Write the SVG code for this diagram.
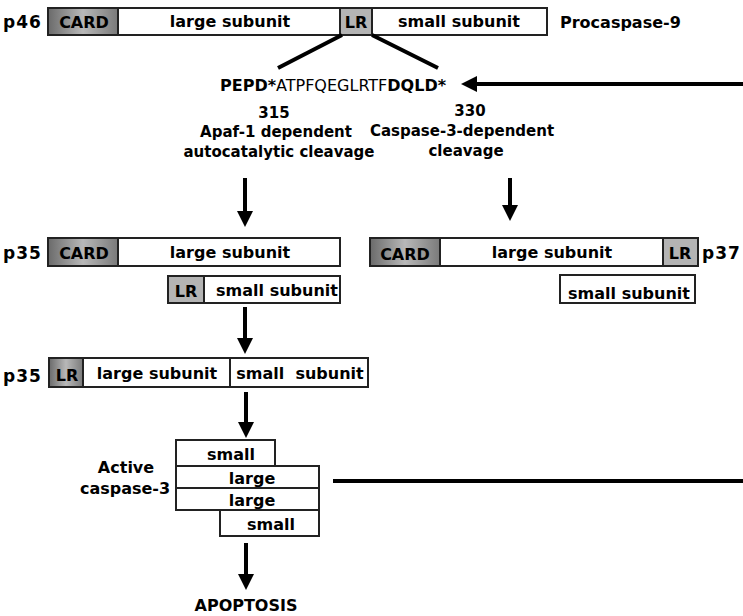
<svg xmlns="http://www.w3.org/2000/svg" width="743" height="616" viewBox="0 0 743 616">
<defs>
<linearGradient id="cardG" x1="0" y1="0" x2="1" y2="0">
<stop offset="0" stop-color="#6a6a6a"/>
<stop offset="0.5" stop-color="#b8b8b8"/>
<stop offset="1" stop-color="#7a7a7a"/>
</linearGradient>
<marker id="ah" viewBox="0 0 16 16" markerWidth="16" markerHeight="16" markerUnits="userSpaceOnUse" refX="1" refY="8" orient="auto">
<path d="M0,0 L16,8 L0,16 z" fill="#000"/>
</marker>
</defs>
<style>
text{font-family:"DejaVu Sans","Verdana",sans-serif;font-weight:bold;fill:#000;}
.t{font-size:16px;}
.l{font-size:15px;}
.p{font-size:17px;letter-spacing:1px;}
.m{font-size:16px;}
.c{text-anchor:middle;}
.box{fill:#fff;stroke:#222;stroke-width:2;}
.card{fill:url(#cardG);stroke:#222;stroke-width:2;}
.lr{fill:#b4b4b4;stroke:#222;stroke-width:2;}
.conn{stroke:#000;stroke-width:4;fill:none;}
.arr{stroke:#000;stroke-width:4;fill:none;marker-end:url(#ah);}
.pre{white-space:pre;}
</style>

<g id="procaspase9">
<text class="p" x="3" y="28">p46</text>
<rect class="card" x="48" y="8" width="70" height="27"/>
<text class="t c" x="84" y="28">CARD</text>
<rect class="box" x="118" y="8" width="222" height="27"/>
<text class="t c" x="230" y="27">large subunit</text>
<rect class="lr" x="340" y="8" width="32" height="27"/>
<text class="t c" x="356" y="28">LR</text>
<rect class="box" x="372" y="8" width="175" height="27"/>
<text class="t c" x="459" y="27">small subunit</text>
<text class="t" x="560" y="28">Procaspase-9</text>
</g>

<g id="sequence">
<text style="font-size:16px" x="220" y="91">PEPD*<tspan style="font-weight:normal">ATPFQEGLRTF</tspan>DQLD*</text>
</g>

<g id="label315">
<text class="l c" x="274" y="118">315</text>
<text class="l c" x="276" y="137">Apaf-1 dependent</text>
<text class="l c" x="279" y="157">autocatalytic cleavage</text>
</g>

<g id="label330">
<text class="l c" x="470" y="116">330</text>
<text class="l c" x="462" y="136">Caspase-3-dependent</text>
<text class="l c" x="466" y="156">cleavage</text>
</g>

<g id="p35a">
<text class="p" x="3" y="259">p35</text>
<rect class="card" x="48" y="238" width="70" height="28"/>
<text class="t c" x="84" y="259">CARD</text>
<rect class="box" x="118" y="238" width="222" height="28"/>
<text class="t c" x="230" y="258">large subunit</text>
</g>

<g id="lrsmall">
<rect class="lr" x="168" y="276" width="36" height="27"/>
<text class="t c" x="186" y="297">LR</text>
<rect class="box" x="204" y="276" width="136" height="27"/>
<text class="t c" x="277" y="296">small subunit</text>
</g>

<g id="p37">
<rect class="card" x="370" y="238" width="70" height="28"/>
<text class="t c" x="405" y="260">CARD</text>
<rect class="box" x="440" y="238" width="223" height="28"/>
<text class="t c" x="552" y="258">large subunit</text>
<rect class="lr" x="663" y="238" width="35" height="28"/>
<text class="t c" x="680" y="259">LR</text>
<text class="p" x="702" y="259">p37</text>
</g>

<g id="smallright">
<rect class="box" x="560" y="275" width="135" height="28"/>
<text class="t c" x="629" y="299">small subunit</text>
</g>

<g id="p35b">
<text class="p" x="3" y="382">p35</text>
<rect class="card" x="49" y="358" width="34" height="29"/>
<text class="t c" x="67" y="381">LR</text>
<rect class="box" x="83" y="358" width="147" height="29"/>
<text class="t c" x="157" y="379">large subunit</text>
<rect class="box" x="230" y="358" width="138" height="29"/>
<text class="t c pre" x="300" y="379">small  subunit</text>
</g>

<g id="caspase3">
<text class="m c" x="126" y="473">Active</text>
<text class="m c" x="125" y="494">caspase-3</text>
<rect class="box" x="176" y="440" width="99" height="26"/>
<text class="t c" x="231" y="460">small</text>
<rect class="box" x="176" y="466" width="143" height="22"/>
<text class="t c" x="252" y="484">large</text>
<rect class="box" x="176" y="488" width="143" height="22"/>
<text class="t c" x="252" y="506">large</text>
<rect class="box" x="220" y="510" width="99" height="26"/>
<text class="t c" x="271" y="530">small</text>
</g>

<g id="apoptosis">
<text class="m c" x="246" y="611">APOPTOSIS</text>
</g>

<g id="connectors">
<line class="conn" x1="342" y1="35" x2="278" y2="68"/>
<line class="conn" x1="372" y1="35" x2="438" y2="68"/>
<line class="arr" x1="743" y1="84" x2="476" y2="84"/>
<line class="arr" x1="245" y1="178" x2="245" y2="212"/>
<line class="arr" x1="510" y1="178" x2="510" y2="206"/>
<line class="arr" x1="245" y1="307" x2="245" y2="339"/>
<line class="arr" x1="246" y1="392" x2="246" y2="423"/>
<line class="arr" x1="246" y1="543" x2="246" y2="575"/>
<line class="conn" x1="333" y1="481" x2="743" y2="481"/>
</g>
</svg>
